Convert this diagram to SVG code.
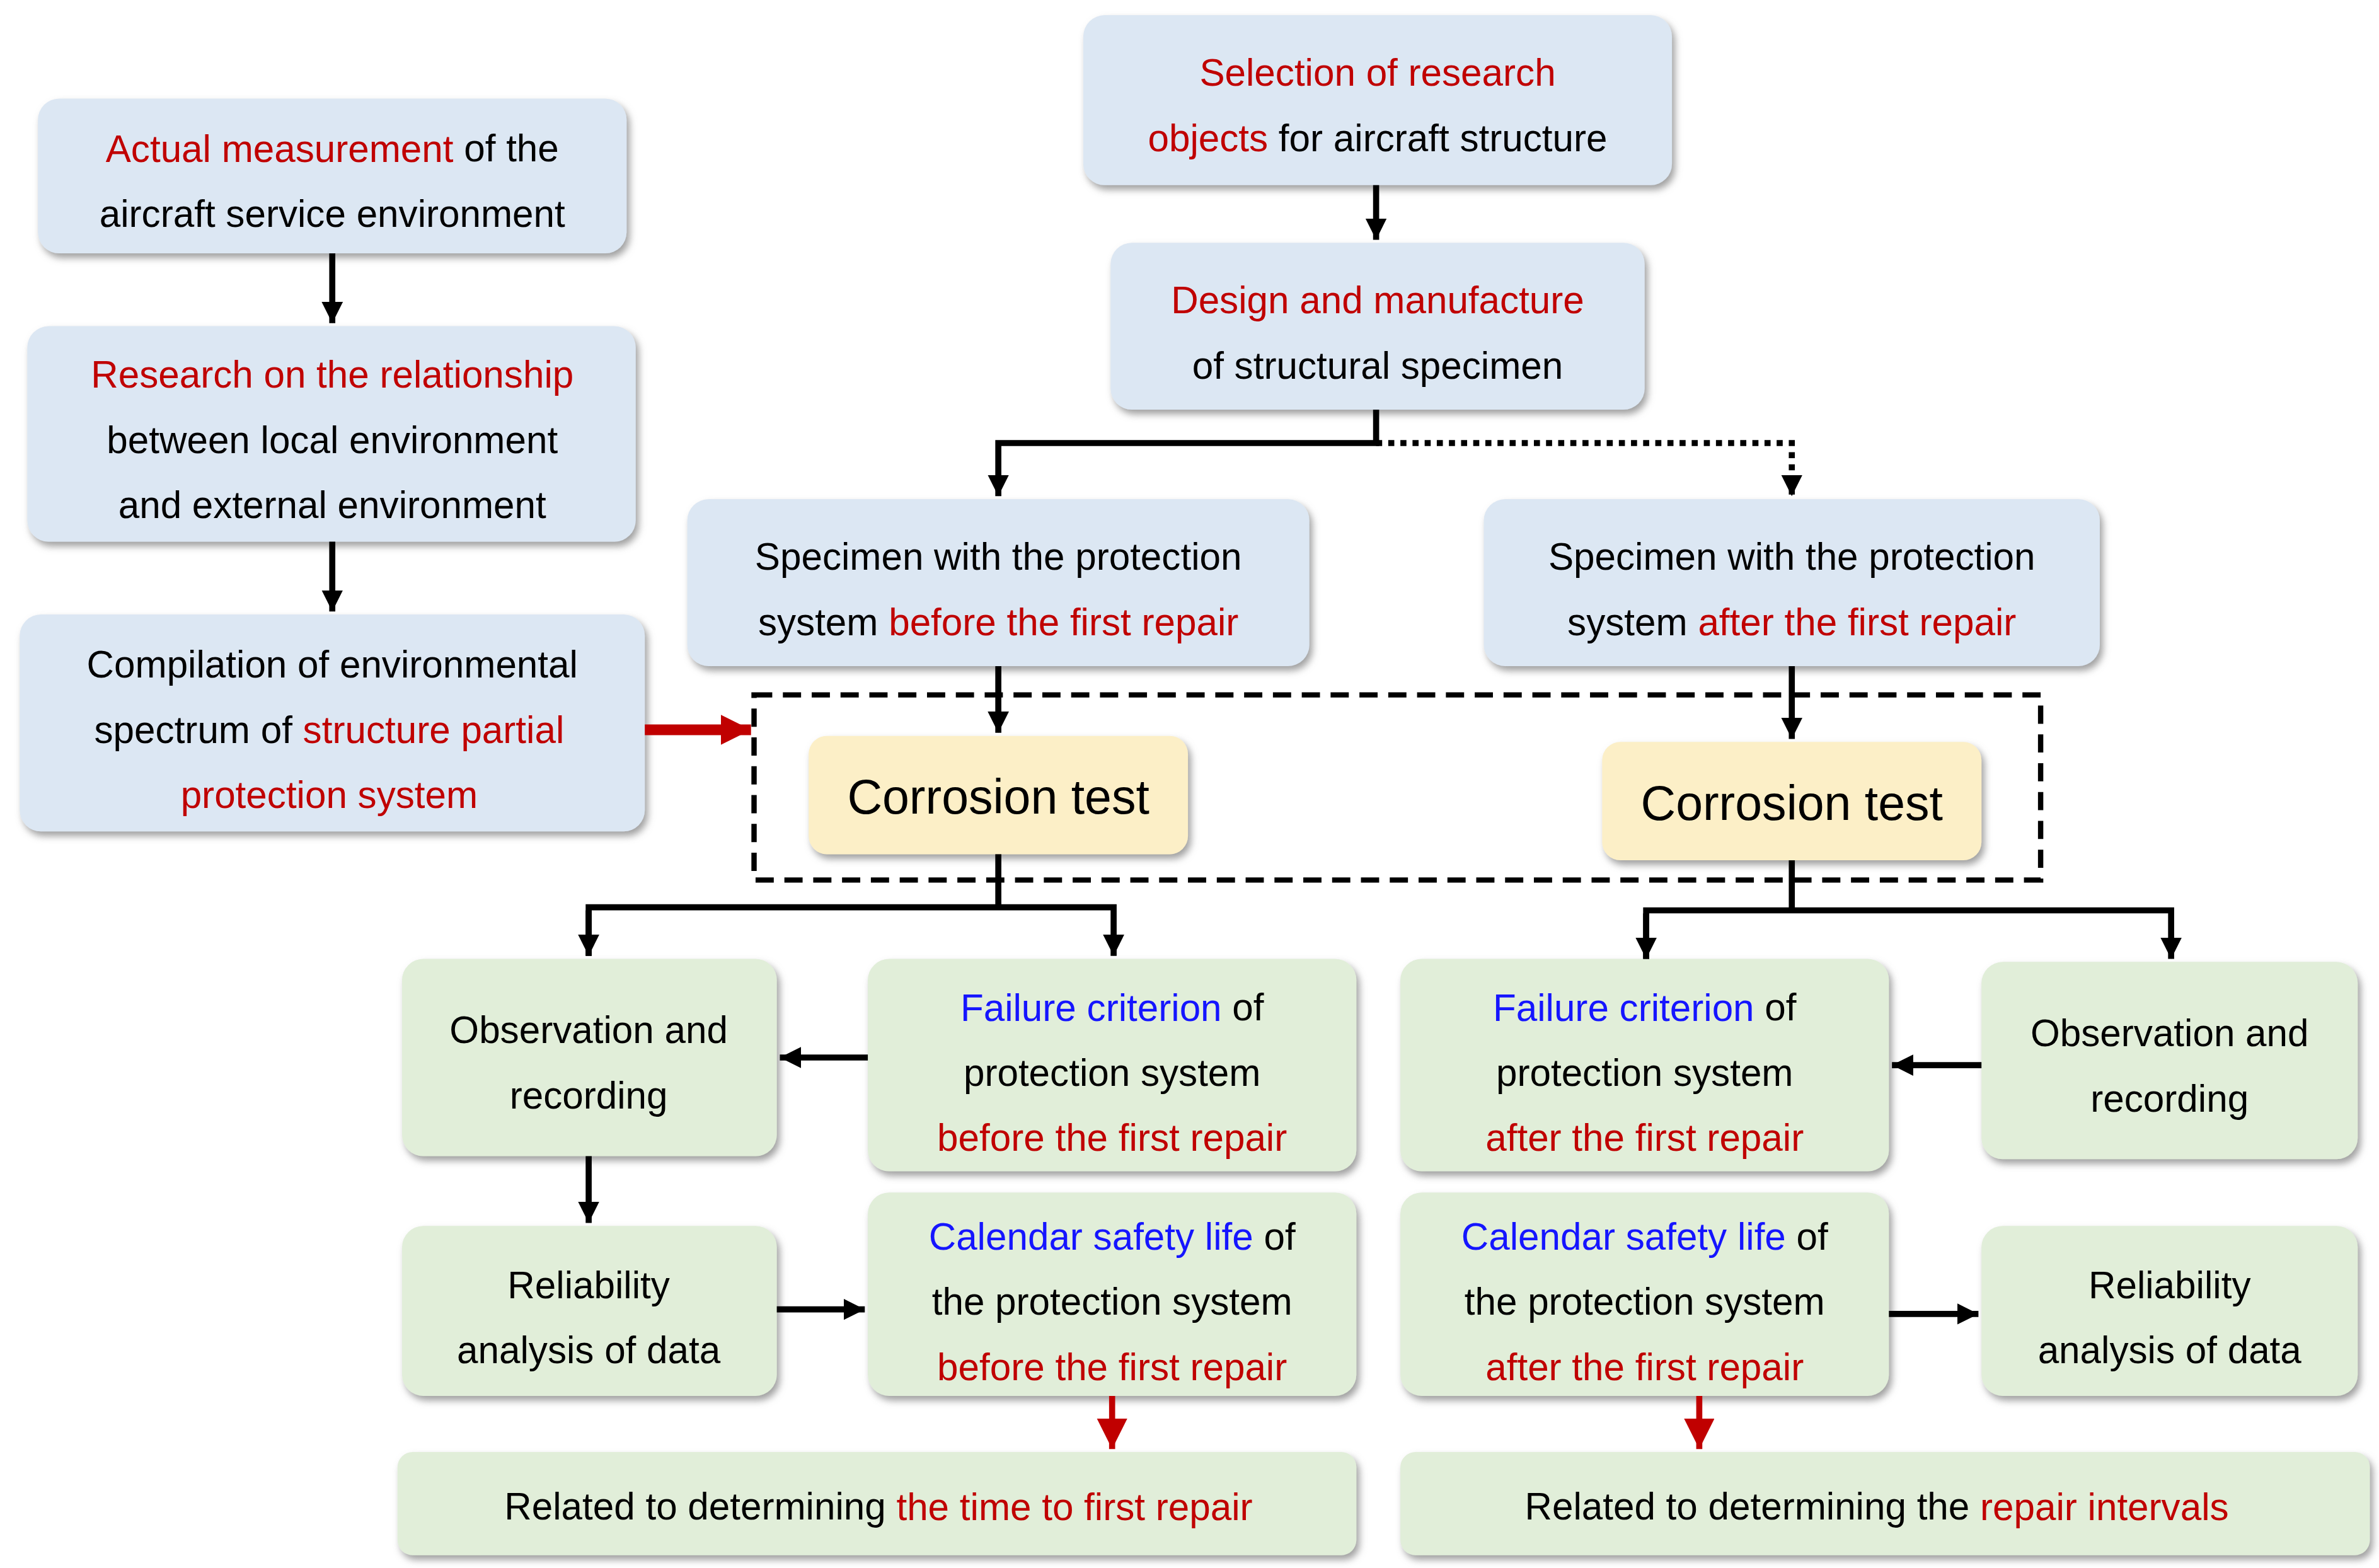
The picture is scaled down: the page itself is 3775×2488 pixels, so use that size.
<svg xmlns="http://www.w3.org/2000/svg" width="3775" height="2488" viewBox="0 0 3775 2488">
<style>
text{font-family:"Liberation Sans",Arial,sans-serif;font-size:25px;fill:#000;text-anchor:middle;dominant-baseline:central}
.r{fill:#c00000}.b{fill:#1515ff}
.bl{fill:#dce7f3}.gr{fill:#e1eed9}.ye{fill:#fcefc7}
.bx{filter:url(#sh)}
.c{stroke:#000;stroke-width:4;fill:none}
.big{font-size:32px}
</style>
<defs>
<filter id="sh" x="-10%" y="-10%" width="125%" height="130%"><feDropShadow dx="2" dy="3" stdDeviation="2.5" flood-color="#777" flood-opacity="0.7"/></filter>
<marker id="ah" markerUnits="userSpaceOnUse" markerWidth="16" markerHeight="16" refX="14" refY="7" orient="auto"><path d="M0,0 L14,7 L0,14 Z" fill="#000"/></marker>
<marker id="rh" markerUnits="userSpaceOnUse" markerWidth="24" markerHeight="24" refX="20" refY="10" orient="auto"><path d="M0,0 L20,10 L0,20 Z" fill="#c00000"/></marker>
</defs>
<rect width="3775" height="2488" fill="#fff"/>
<g transform="scale(2.4075)">
<g id="nA"><rect class="bx bl" x="25" y="65" width="388" height="102" rx="14"/><text x="219" y="98"><tspan class="r">Actual measurement</tspan> of the</text><text x="219" y="141">aircraft service environment</text></g>
<g id="nB"><rect class="bx bl" x="18" y="215" width="401" height="142" rx="14"/><text x="219" y="247" class="r">Research on the relationship</text><text x="219" y="290">between local environment</text><text x="219" y="333">and external environment</text></g>
<g id="nC"><rect class="bx bl" x="13" y="405" width="412" height="143" rx="14"/><text x="219" y="438">Compilation of environmental</text><text x="217" y="481">spectrum of <tspan class="r">structure partial</tspan></text><text x="217" y="524" class="r">protection system</text></g>
<g id="nD"><rect class="bx bl" x="714" y="10" width="388" height="112" rx="14"/><text x="908" y="48" class="r">Selection of research</text><text x="908" y="91"><tspan class="r">objects</tspan> for aircraft structure</text></g>
<g id="nE"><rect class="bx bl" x="732" y="160" width="352" height="110" rx="14"/><text x="908" y="198" class="r">Design and manufacture</text><text x="908" y="241">of structural specimen</text></g>
<g id="nF"><rect class="bx bl" x="453" y="329" width="410" height="110" rx="14"/><text x="658" y="367">Specimen with the protection</text><text x="658" y="410">system <tspan class="r">before the first repair</tspan></text></g>
<g id="nG"><rect class="bx bl" x="978" y="329" width="406" height="110" rx="14"/><text x="1181" y="367">Specimen with the protection</text><text x="1181" y="410">system <tspan class="r">after the first repair</tspan></text></g>
<g id="group"><rect x="497" y="458" width="848" height="122" fill="none" stroke="#000" stroke-width="3.5" stroke-dasharray="12,7"/></g>
<g id="nT1"><rect class="bx ye" x="533" y="485" width="250" height="78" rx="12"/><text x="658" y="525" class="big">Corrosion test</text></g>
<g id="nT2"><rect class="bx ye" x="1056" y="489" width="250" height="78" rx="12"/><text x="1181" y="529" class="big">Corrosion test</text></g>
<g id="nO1"><rect class="bx gr" x="265" y="632" width="247" height="130" rx="14"/><text x="388" y="679">Observation and</text><text x="388" y="722">recording</text></g>
<g id="nF1"><rect class="bx gr" x="572" y="632" width="322" height="140" rx="14"/><text x="733" y="664"><tspan class="b">Failure criterion</tspan> of</text><text x="733" y="707">protection system</text><text x="733" y="750" class="r">before the first repair</text></g>
<g id="nR1"><rect class="bx gr" x="265" y="808" width="247" height="112" rx="14"/><text x="388" y="847">Reliability</text><text x="388" y="890">analysis of data</text></g>
<g id="nC1"><rect class="bx gr" x="572" y="786" width="322" height="134" rx="14"/><text x="733" y="815"><tspan class="b">Calendar safety life</tspan> of</text><text x="733" y="858">the protection system</text><text x="733" y="901" class="r">before the first repair</text></g>
<g id="nB1"><rect class="bx gr" x="262" y="957" width="632" height="68" rx="10"/><text x="579" y="993">Related to determining <tspan class="r">the time to first repair</tspan></text></g>
<g id="nF2"><rect class="bx gr" x="923" y="632" width="322" height="140" rx="14"/><text x="1084" y="664"><tspan class="b">Failure criterion</tspan> of</text><text x="1084" y="707">protection system</text><text x="1084" y="750" class="r">after the first repair</text></g>
<g id="nO2"><rect class="bx gr" x="1306" y="634" width="248" height="130" rx="14"/><text x="1430" y="681">Observation and</text><text x="1430" y="724">recording</text></g>
<g id="nC2"><rect class="bx gr" x="923" y="786" width="322" height="134" rx="14"/><text x="1084" y="815"><tspan class="b">Calendar safety life</tspan> of</text><text x="1084" y="858">the protection system</text><text x="1084" y="901" class="r">after the first repair</text></g>
<g id="nR2"><rect class="bx gr" x="1306" y="808" width="248" height="112" rx="14"/><text x="1430" y="847">Reliability</text><text x="1430" y="890">analysis of data</text></g>
<g id="nB2"><rect class="bx gr" x="923" y="957" width="639" height="68" rx="10"/><text x="1237" y="993">Related to determining the <tspan class="r">repair intervals</tspan></text></g>
<g id="connectors">
<path class="c" d="M219,167 V213" marker-end="url(#ah)"/>
<path class="c" d="M219,357 V403" marker-end="url(#ah)"/>
<path d="M425,481 H495" stroke="#c00000" stroke-width="7" fill="none" marker-end="url(#rh)"/>
<path class="c" d="M907,122 V158" marker-end="url(#ah)"/>
<path class="c" d="M907,270 V292 H658 V327" marker-end="url(#ah)"/>
<path d="M907,292 H1181 V327" stroke="#000" stroke-width="4" stroke-dasharray="4,4" fill="none" marker-end="url(#ah)"/>
<path class="c" d="M658,439 V483" marker-end="url(#ah)"/>
<path class="c" d="M1181,439 V487" marker-end="url(#ah)"/>
<path class="c" d="M658,563 V598"/>
<path class="c" d="M388,630 V598 H734 V630" marker-end="url(#ah)"/>
<path class="c" d="M388,600 V630" marker-end="url(#ah)"/>
<path class="c" d="M1181,567 V600"/>
<path class="c" d="M1085,632 V600 H1431 V632" marker-end="url(#ah)"/>
<path class="c" d="M1085,602 V632" marker-end="url(#ah)"/>
<path class="c" d="M572,697 H514" marker-end="url(#ah)"/>
<path class="c" d="M388,762 V806" marker-end="url(#ah)"/>
<path class="c" d="M512,863 H570" marker-end="url(#ah)"/>
<path d="M733,920 V955" stroke="#c00000" stroke-width="4" fill="none" marker-end="url(#rh)"/>
<path class="c" d="M1306,702 H1247" marker-end="url(#ah)"/>
<path class="c" d="M1245,866 H1304" marker-end="url(#ah)"/>
<path d="M1120,920 V955" stroke="#c00000" stroke-width="4" fill="none" marker-end="url(#rh)"/>
</g>
</g>
</svg>
